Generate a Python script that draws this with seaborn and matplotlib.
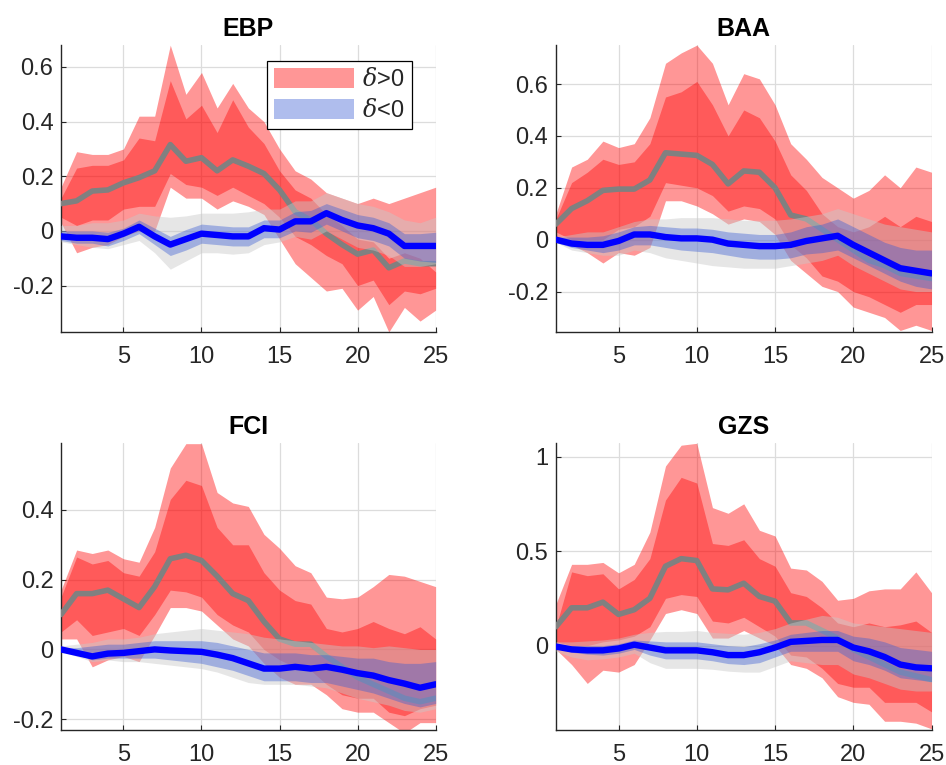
import numpy as np
import pandas as pd
import matplotlib
matplotlib.use("Agg")
import matplotlib.pyplot as plt
import seaborn as sns
from matplotlib.patches import Patch

horizon = list(range(1, 26))

# ---- EBP ----
ebp_pos_med = [0.10, 0.11, 0.146, 0.15, 0.176, 0.195, 0.22, 0.316, 0.255, 0.268, 0.22, 0.26, 0.237, 0.21, 0.15,
               0.07, 0.04, -0.01, -0.05, -0.085, -0.07, -0.135, -0.11, -0.12, -0.12]
ebp_pos_lo68 = [0.05, 0.02, 0.04, 0.04, 0.08, 0.09, 0.09, 0.21, 0.17, 0.16, 0.13, 0.16, 0.13, 0.10, 0.05,
                -0.02, -0.05, -0.09, -0.12, -0.20, -0.18, -0.27, -0.22, -0.23, -0.21]
ebp_pos_hi68 = [0.12, 0.23, 0.24, 0.24, 0.26, 0.34, 0.33, 0.55, 0.41, 0.46, 0.36, 0.48, 0.38, 0.32, 0.22,
                0.15, 0.12, 0.06, 0.02, -0.03, -0.04, -0.10, -0.08, -0.10, -0.15]
ebp_pos_lo90 = [0.03, -0.08, -0.06, -0.05, -0.02, 0.0, 0.0, 0.16, 0.12, 0.12, 0.08, 0.11, 0.09, 0.06, -0.03,
                -0.12, -0.17, -0.22, -0.21, -0.29, -0.24, -0.37, -0.28, -0.33, -0.29]
ebp_pos_hi90 = [0.16, 0.29, 0.28, 0.28, 0.30, 0.42, 0.42, 0.68, 0.50, 0.58, 0.45, 0.54, 0.45, 0.40, 0.30,
                0.22, 0.19, 0.14, 0.12, 0.10, 0.12, 0.10, 0.12, 0.14, 0.16]
ebp_neg_med = [-0.02, -0.025, -0.025, -0.03, -0.01, 0.015, -0.02, -0.05, -0.03, -0.01, -0.015, -0.02, -0.02,
               0.01, 0.005, 0.035, 0.035, 0.065, 0.04, 0.02, 0.01, -0.01, -0.055, -0.055, -0.055]
ebp_neg_lo68 = [-0.035, -0.045, -0.045, -0.055, -0.035, -0.01, -0.05, -0.09, -0.07, -0.045, -0.05, -0.055, -0.055,
                -0.025, -0.025, 0.0, -0.005, 0.025, 0.0, -0.025, -0.035, -0.055, -0.10, -0.11, -0.115]
ebp_neg_hi68 = [0.0, 0.0, 0.0, -0.005, 0.01, 0.04, 0.01, -0.02, 0.005, 0.025, 0.02, 0.015, 0.015,
                0.04, 0.04, 0.07, 0.075, 0.10, 0.08, 0.06, 0.05, 0.03, -0.01, -0.01, -0.005]
ebp_neg_lo90 = [-0.04, -0.05, -0.06, -0.065, -0.05, -0.035, -0.08, -0.14, -0.11, -0.08, -0.08, -0.085, -0.08,
                -0.05, -0.04, -0.02, -0.03, 0.0, -0.03, -0.06, -0.07, -0.09, -0.13, -0.13, -0.12]
ebp_neg_hi90 = [0.02, 0.02, 0.03, 0.03, 0.04, 0.065, 0.055, 0.05, 0.055, 0.065, 0.065, 0.065, 0.07,
                0.08, 0.08, 0.11, 0.11, 0.14, 0.12, 0.10, 0.09, 0.07, 0.04, 0.03, 0.05]

# ---- BAA ----
baa_pos_med = [0.06, 0.12, 0.15, 0.19, 0.195, 0.195, 0.23, 0.335, 0.33, 0.325, 0.29, 0.215, 0.265, 0.26, 0.20,
               0.095, 0.08, 0.04, 0.0, -0.04, -0.08, -0.10, -0.13, -0.14, -0.15]
baa_pos_lo68 = [0.03, 0.0, 0.0, 0.0, 0.04, 0.05, 0.09, 0.22, 0.21, 0.20, 0.17, 0.11, 0.13, 0.12, 0.08,
                -0.02, -0.07, -0.14, -0.16, -0.20, -0.22, -0.25, -0.28, -0.25, -0.25]
baa_pos_hi68 = [0.08, 0.22, 0.26, 0.31, 0.29, 0.30, 0.37, 0.55, 0.57, 0.61, 0.52, 0.40, 0.50, 0.47, 0.38,
                0.25, 0.19, 0.10, 0.05, 0.03, 0.05, 0.09, 0.05, 0.09, 0.07]
baa_pos_lo90 = [0.0, -0.02, -0.05, -0.09, -0.05, -0.06, -0.03, 0.15, 0.15, 0.13, 0.10, 0.06, 0.08, 0.07, 0.02,
                -0.08, -0.13, -0.18, -0.20, -0.26, -0.28, -0.30, -0.35, -0.33, -0.35]
baa_pos_hi90 = [0.10, 0.28, 0.31, 0.38, 0.355, 0.37, 0.47, 0.68, 0.72, 0.75, 0.68, 0.52, 0.64, 0.62, 0.52,
                0.37, 0.31, 0.24, 0.20, 0.16, 0.19, 0.25, 0.20, 0.28, 0.26]
baa_neg_med = [0.0, -0.015, -0.02, -0.02, -0.005, 0.02, 0.02, 0.01, 0.005, 0.005, 0.0, -0.015, -0.02,
               -0.025, -0.025, -0.02, -0.005, 0.005, 0.015, -0.02, -0.05, -0.08, -0.11, -0.12, -0.13]
baa_neg_lo68 = [-0.01, -0.03, -0.04, -0.05, -0.04, -0.02, -0.02, -0.03, -0.04, -0.045, -0.05, -0.06, -0.07,
                -0.075, -0.075, -0.07, -0.055, -0.05, -0.04, -0.07, -0.10, -0.13, -0.16, -0.18, -0.19]
baa_neg_hi68 = [0.01, 0.01, 0.01, 0.015, 0.03, 0.05, 0.055, 0.05, 0.045, 0.045, 0.04, 0.03, 0.025,
                0.02, 0.02, 0.03, 0.05, 0.06, 0.08, 0.05, 0.02, -0.01, -0.03, -0.04, -0.04]
baa_neg_lo90 = [-0.01, -0.04, -0.05, -0.06, -0.06, -0.04, -0.05, -0.07, -0.08, -0.09, -0.10, -0.105, -0.11,
                -0.11, -0.11, -0.10, -0.09, -0.08, -0.06, -0.10, -0.13, -0.16, -0.19, -0.20, -0.20]
baa_neg_hi90 = [0.01, 0.02, 0.03, 0.03, 0.05, 0.07, 0.08, 0.08, 0.085, 0.085, 0.085, 0.08, 0.075,
                0.075, 0.075, 0.08, 0.09, 0.10, 0.12, 0.10, 0.08, 0.06, 0.05, 0.04, 0.03]

# ---- FCI ----
fci_pos_med = [0.10, 0.16, 0.16, 0.17, 0.145, 0.12, 0.18, 0.26, 0.27, 0.255, 0.21, 0.16, 0.14, 0.08, 0.03,
               0.015, 0.015, -0.02, -0.05, -0.08, -0.10, -0.12, -0.14, -0.15, -0.14]
fci_pos_lo68 = [0.05, 0.085, 0.04, 0.05, 0.06, 0.04, 0.10, 0.17, 0.165, 0.15, 0.10, 0.07, 0.05, 0.0, -0.03,
                -0.05, -0.06, -0.10, -0.13, -0.14, -0.14, -0.18, -0.19, -0.17, -0.16]
fci_pos_hi68 = [0.15, 0.265, 0.245, 0.255, 0.22, 0.21, 0.28, 0.43, 0.485, 0.47, 0.35, 0.30, 0.30, 0.22, 0.17,
                0.14, 0.13, 0.06, 0.05, 0.06, 0.08, 0.06, 0.045, 0.065, 0.03]
fci_pos_lo90 = [0.03, 0.03, -0.05, -0.03, -0.02, -0.035, 0.04, 0.12, 0.12, 0.11, 0.07, 0.03, 0.01, -0.04, -0.08,
                -0.10, -0.10, -0.13, -0.17, -0.18, -0.18, -0.21, -0.24, -0.21, -0.21]
fci_pos_hi90 = [0.17, 0.285, 0.275, 0.285, 0.26, 0.25, 0.35, 0.52, 0.59, 0.59, 0.45, 0.42, 0.41, 0.33, 0.29,
                0.24, 0.22, 0.15, 0.145, 0.15, 0.18, 0.215, 0.21, 0.195, 0.18]
fci_neg_med = [0.0, -0.01, -0.02, -0.012, -0.01, -0.005, 0.0, -0.003, -0.005, -0.007, -0.015, -0.025, -0.04,
               -0.055, -0.055, -0.05, -0.055, -0.05, -0.058, -0.068, -0.075, -0.088, -0.098, -0.11, -0.10]
fci_neg_lo68 = [0.0, -0.015, -0.03, -0.025, -0.025, -0.025, -0.025, -0.03, -0.035, -0.04, -0.05, -0.06, -0.075,
                -0.09, -0.09, -0.09, -0.095, -0.095, -0.105, -0.115, -0.125, -0.14, -0.155, -0.165, -0.155]
fci_neg_hi68 = [0.005, 0.005, 0.01, 0.015, 0.015, 0.02, 0.025, 0.025, 0.025, 0.025, 0.02, 0.01, 0.0,
                -0.01, -0.01, -0.01, -0.015, -0.015, -0.02, -0.025, -0.025, -0.035, -0.04, -0.04, -0.035]
fci_neg_lo90 = [-0.005, -0.02, -0.035, -0.03, -0.035, -0.035, -0.04, -0.045, -0.05, -0.055, -0.065, -0.08, -0.095,
                -0.10, -0.10, -0.10, -0.105, -0.11, -0.125, -0.14, -0.15, -0.16, -0.175, -0.18, -0.17]
fci_neg_hi90 = [0.01, 0.015, 0.02, 0.03, 0.03, 0.035, 0.045, 0.05, 0.055, 0.06, 0.055, 0.05, 0.045,
                0.035, 0.03, 0.025, 0.02, 0.015, 0.01, 0.01, 0.005, 0.01, 0.005, 0.0, 0.0]

# ---- GZS ----
gzs_pos_med = [0.10, 0.20, 0.20, 0.23, 0.165, 0.19, 0.25, 0.42, 0.46, 0.45, 0.30, 0.295, 0.33, 0.26, 0.235,
               0.12, 0.12, 0.08, 0.04, -0.02, -0.06, -0.10, -0.14, -0.16, -0.18]
gzs_pos_lo68 = [0.02, 0.0, 0.0, 0.02, 0.03, 0.05, 0.10, 0.25, 0.27, 0.26, 0.13, 0.12, 0.15, 0.10, 0.05,
                -0.05, -0.06, -0.12, -0.20, -0.22, -0.22, -0.30, -0.30, -0.30, -0.35]
gzs_pos_hi68 = [0.10, 0.39, 0.37, 0.38, 0.30, 0.35, 0.46, 0.77, 0.89, 0.86, 0.54, 0.53, 0.56, 0.46, 0.42,
                0.28, 0.26, 0.20, 0.12, 0.10, 0.12, 0.10, 0.11, 0.13, 0.07]
gzs_pos_lo90 = [-0.02, -0.10, -0.20, -0.13, -0.14, -0.10, 0.03, 0.17, 0.19, 0.17, 0.04, 0.04, 0.08, 0.04, 0.0,
                -0.10, -0.12, -0.17, -0.27, -0.30, -0.31, -0.40, -0.40, -0.41, -0.44]
gzs_pos_hi90 = [0.22, 0.43, 0.43, 0.44, 0.385, 0.43, 0.60, 0.95, 1.06, 1.07, 0.73, 0.70, 0.75, 0.61, 0.58,
                0.41, 0.40, 0.34, 0.24, 0.25, 0.29, 0.30, 0.30, 0.39, 0.28]
gzs_neg_med = [-0.005, -0.02, -0.025, -0.025, -0.015, 0.005, -0.01, -0.025, -0.025, -0.025, -0.035, -0.05, -0.05,
               -0.035, -0.01, 0.02, 0.025, 0.03, 0.03, -0.01, -0.03, -0.06, -0.10, -0.115, -0.12]
gzs_neg_lo68 = [-0.01, -0.035, -0.045, -0.05, -0.04, -0.02, -0.05, -0.07, -0.07, -0.07, -0.08, -0.095, -0.10,
                -0.09, -0.06, -0.03, -0.03, -0.03, -0.03, -0.08, -0.10, -0.13, -0.17, -0.18, -0.19]
gzs_neg_hi68 = [0.0, 0.0, 0.0, 0.0, 0.01, 0.03, 0.025, 0.02, 0.02, 0.02, 0.01, 0.0, -0.005,
                0.01, 0.03, 0.06, 0.07, 0.08, 0.08, 0.05, 0.04, 0.02, -0.01, -0.02, -0.03]
gzs_neg_lo90 = [-0.03, -0.06, -0.075, -0.07, -0.06, -0.04, -0.09, -0.12, -0.12, -0.12, -0.125, -0.135, -0.14,
                -0.14, -0.11, -0.08, -0.09, -0.10, -0.10, -0.15, -0.17, -0.20, -0.23, -0.24, -0.24]
gzs_neg_hi90 = [0.02, 0.02, 0.025, 0.03, 0.04, 0.06, 0.07, 0.075, 0.075, 0.08, 0.07, 0.065, 0.06,
                0.07, 0.09, 0.12, 0.14, 0.16, 0.15, 0.12, 0.11, 0.10, 0.09, 0.08, 0.07]

titles = ["EBP", "BAA", "FCI", "GZS"]
ylims = [(-0.37, 0.68), (-0.356, 0.75), (-0.231, 0.591), (-0.446, 1.07)]
yticks = [[-0.2, 0, 0.2, 0.4, 0.6], [-0.2, 0, 0.2, 0.4, 0.6], [-0.2, 0, 0.2, 0.4], [0, 0.5, 1]]
xticks = [5, 10, 15, 20, 25]

panels = [
    (ebp_pos_med, ebp_pos_lo68, ebp_pos_hi68, ebp_pos_lo90, ebp_pos_hi90,
     ebp_neg_med, ebp_neg_lo68, ebp_neg_hi68, ebp_neg_lo90, ebp_neg_hi90),
    (baa_pos_med, baa_pos_lo68, baa_pos_hi68, baa_pos_lo90, baa_pos_hi90,
     baa_neg_med, baa_neg_lo68, baa_neg_hi68, baa_neg_lo90, baa_neg_hi90),
    (fci_pos_med, fci_pos_lo68, fci_pos_hi68, fci_pos_lo90, fci_pos_hi90,
     fci_neg_med, fci_neg_lo68, fci_neg_hi68, fci_neg_lo90, fci_neg_hi90),
    (gzs_pos_med, gzs_pos_lo68, gzs_pos_hi68, gzs_pos_lo90, gzs_pos_hi90,
     gzs_neg_med, gzs_neg_lo68, gzs_neg_hi68, gzs_neg_lo90, gzs_neg_hi90),
]

sns.set_theme(style="ticks")
plt.rcParams.update({
    "font.family": ["Liberation Sans", "DejaVu Sans"],
    "axes.unicode_minus": False,
    "mathtext.fontset": "dejavuserif",
})

RED = "#ff0000"
BAND_BLUE = "#395cd4"
GREY_LINE = "#808080"
TXT = "#262626"

fig = plt.figure(figsize=(9.46, 7.65), dpi=100)
positions = [
    [0.0645, 0.566, 0.396, 0.375],
    [0.5877, 0.566, 0.397, 0.375],
    [0.0645, 0.0458, 0.396, 0.3747],
    [0.5877, 0.0458, 0.397, 0.3747],
]

for i, (pos, data) in enumerate(zip(positions, panels)):
    ax = fig.add_axes(pos)
    pmed, plo68, phi68, plo90, phi90, nmed, nlo68, nhi68, nlo90, nhi90 = data

    # delta > 0: red bands and grey median
    ax.fill_between(horizon, plo90, phi90, color=RED, alpha=0.41, lw=0, zorder=1)
    ax.fill_between(horizon, plo68, phi68, color=RED, alpha=0.4, lw=0, zorder=2)
    sns.lineplot(x=horizon, y=pmed, ax=ax, color=GREY_LINE, lw=4.0, zorder=3)

    # delta < 0: grey outer band, blue inner band, blue median
    ax.fill_between(horizon, nlo90, nhi90, color="#c8c8c8", alpha=0.45, lw=0, zorder=4)
    ax.fill_between(horizon, nlo68, nhi68, color=BAND_BLUE, alpha=0.4, lw=0, zorder=5)
    sns.lineplot(x=horizon, y=nmed, ax=ax, color="#0000ff", lw=4.6, zorder=6)

    ax.set_xlim(1, 25)
    ax.set_ylim(*ylims[i])
    ax.set_xticks(xticks)
    ax.set_yticks(yticks[i])
    ax.set_yticklabels([f"{v:g}" for v in yticks[i]])
    ax.grid(True, color="#dcdcdc", lw=0.9, zorder=0)
    ax.set_axisbelow(True)
    ax.tick_params(direction="in", length=3.5, width=0.8, colors=TXT, labelsize=17)
    ax.tick_params(axis="x", pad=10)
    ax.tick_params(axis="y", pad=5.5)
    for s in ["top", "right"]:
        ax.spines[s].set_visible(False)
    for s in ["left", "bottom"]:
        ax.spines[s].set_color(TXT)
        ax.spines[s].set_linewidth(1.0)
    ax.set_title(titles[i], fontsize=18, fontweight="bold", color="black", pad=6.7)

    if i == 0:
        handles = [Patch(facecolor=RED, alpha=0.41, edgecolor="none"),
                   Patch(facecolor=BAND_BLUE, alpha=0.4, edgecolor="none")]
        leg = ax.legend(handles, [r"$\delta$>0", r"$\delta$<0"], loc="upper right",
                        bbox_to_anchor=(0.936, 0.945), fontsize=17, frameon=True,
                        fancybox=False, edgecolor="black", framealpha=1,
                        handlelength=3.4, handleheight=0.9, borderpad=0.3,
                        labelspacing=0.35, handletextpad=0.35, borderaxespad=0.0)
        leg.get_frame().set_linewidth(0.9)
        leg.set_zorder(10)

fig.savefig("out.png", dpi=100)
